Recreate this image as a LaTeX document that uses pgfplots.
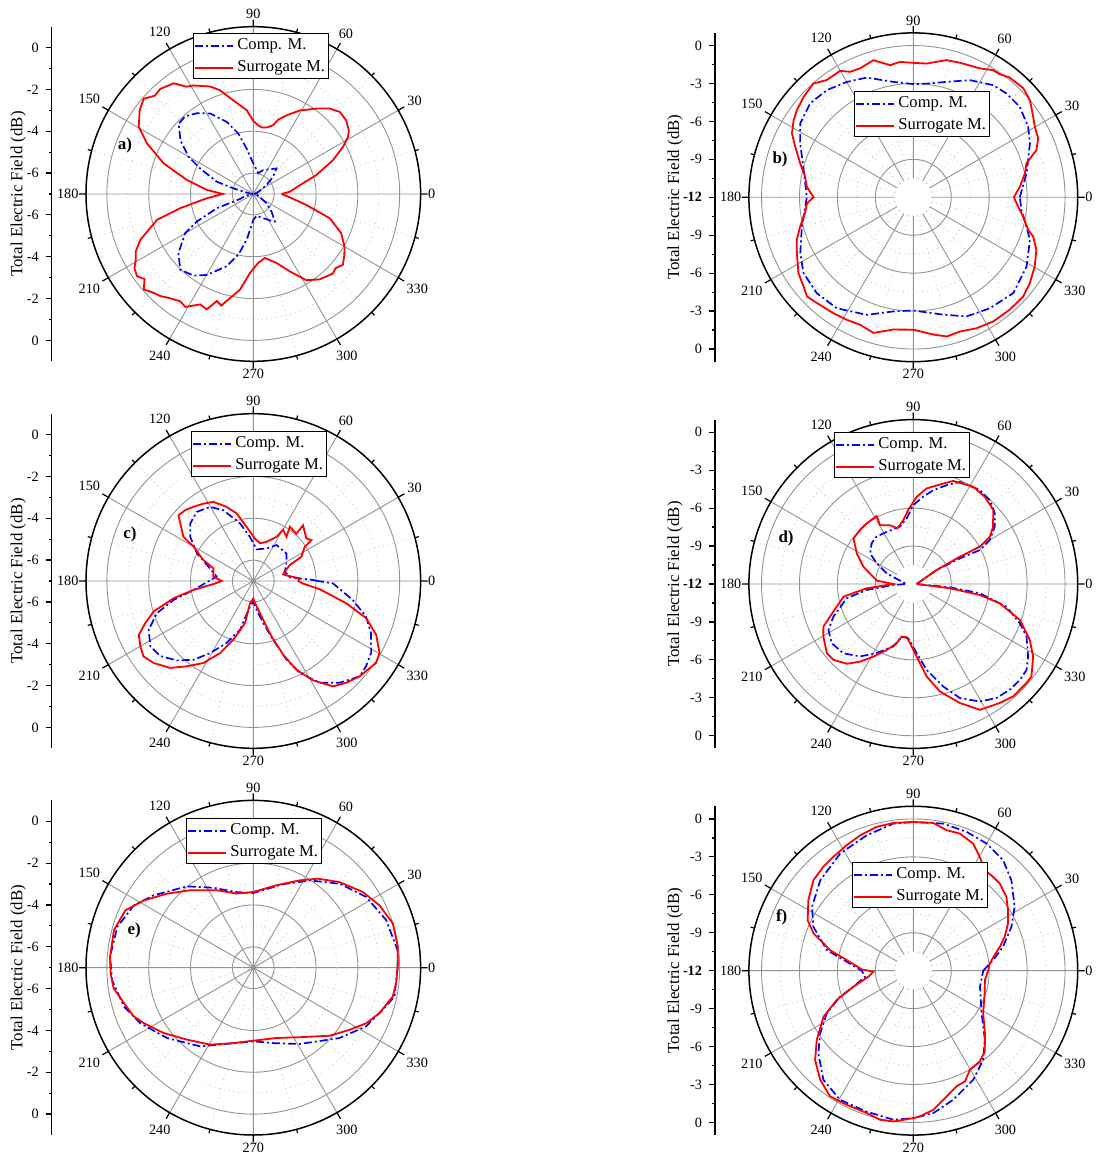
\documentclass[border=0pt]{standalone}
\usepackage{pgfplots}
\pgfplotsset{compat=1.18}
\usepackage{pgfplotstable}
\usepgfplotslibrary{polar}
\usepackage{fontspec}
\setmainfont{Liberation Serif}
\newcommand\tickfont{\fontsize{7.1pt}{8pt}\selectfont}
\newcommand\legfont{\fontsize{8.3pt}{9.5pt}\selectfont}
\newcommand\labfont{\fontsize{8.45pt}{10pt}\selectfont}

\pgfplotstableread{
a d
0 -6.95
15 -6.81
26.6 -6.65
34 -6.24
40.9 -5.75
47.7 -5.35
56 -5.57
67.4 -5.76
76.4 -5.98
90 -5.54
98.3 -4.81
103.9 -4.03
110.2 -3.33
118.2 -2.63
124.9 -2.29
131.2 -2.06
136.7 -2.10
143.6 -2.67
150.1 -3.43
154.3 -4.17
161.4 -5.16
164.2 -6.02
166.5 -6.52
172 -6.84
180 -6.95
188 -6.84
196 -6.55
200.6 -6.32
201.3 -5.13
206 -4.00
209.9 -3.24
218.3 -2.44
226 -1.97
233.8 -2.16
240.2 -2.54
249.8 -3.32
256.2 -4.02
261.8 -4.79
270 -5.76
278.6 -5.94
292.3 -5.75
304 -5.45
308.1 -5.33
316 -5.79
325 -6.22
333.4 -6.65
345 -6.81
360 -6.95
}\tabAB
\pgfplotstableread{
a d
0 -5.65
3.6 -5.25
10.5 -4.75
16.7 -3.86
23 -2.86
27.7 -2.16
31.1 -1.71
33.7 -1.51
38.4 -1.33
43.5 -1.30
48.2 -1.52
53.5 -1.92
60.9 -2.43
67.1 -2.92
71.5 -3.25
73.8 -3.57
78.7 -3.76
82.9 -3.79
85.9 -3.71
90 -3.51
94.5 -2.98
102 -2.43
107.8 -1.79
111.9 -1.46
118.8 -1.08
122 -0.95
125.7 -0.48
131.5 -0.29
135 -0.35
139 -0.06
143.6 -0.25
149.6 -0.65
154.6 -1.38
161.2 -2.48
168.1 -3.76
175 -4.78
180 -5.54
185.3 -4.76
191 -3.44
195 -2.24
202.1 -1.17
206 -0.75
209.2 -0.56
212 -0.30
215.3 -0.19
218 -0.40
221.1 -0.05
224 -0.25
227.7 -0.40
231 -0.60
235.7 -0.79
239 -0.70
244.3 -1.14
248 -1.05
251.2 -1.59
254 -1.45
257.4 -1.90
262.1 -2.38
267.6 -3.22
274.1 -3.70
280.3 -3.89
288.6 -3.52
295.3 -2.90
301.6 -2.16
307.8 -1.83
315 -1.62
318 -1.70
321.7 -1.54
326 -1.75
330.1 -1.97
336 -2.40
342.4 -3.17
348.3 -4.41
354.8 -5.25
360 -5.65
}\tabAR
\pgfplotstableread{
a d
0 -3.58
12 -2.84
24.8 -1.84
31.6 -1.34
40.4 -0.95
48.1 -0.97
54.5 -1.11
64.2 -1.71
73.9 -2.50
83.3 -2.95
90 -3.05
99.8 -2.74
111.3 -1.84
120 -1.47
128.9 -1.11
137.7 -0.97
146.9 -1.32
154.5 -2.08
164.4 -2.97
180 -3.58
194.7 -2.89
206.3 -2.03
214.6 -1.45
224.8 -1.24
235.4 -1.34
248.4 -2.00
260.1 -2.84
270 -3.05
284.3 -2.42
294.1 -1.68
304.6 -1.34
316.2 -1.05
328.5 -1.50
339.9 -2.18
345.5 -2.76
353.3 -3.39
360 -3.58
}\tabBB
\pgfplotstableread{
a d
0 -4.05
5.7 -3.53
12.1 -2.97
16.7 -2.66
21 -1.57
25.3 -1.08
30.1 -0.89
35.1 -0.47
39.8 0.00
44.8 0.25
51.3 0.15
54.9 -0.11
57.9 -0.13
62.7 -0.53
70.9 -0.74
76.4 -0.84
84.3 -1.37
90 -1.37
95.6 -1.24
100 -1.39
106.2 -0.71
112.5 -0.97
116.7 -0.89
120.1 -0.45
126.5 -0.47
131.3 -0.03
137.5 -0.24
143.2 -0.50
147.2 -0.74
152.3 -1.16
156.8 -1.84
163.3 -2.66
169.2 -3.29
174.3 -3.53
180 -4.11
183.2 -3.58
188.4 -3.34
194.5 -2.76
200.1 -2.18
205.6 -1.79
213.5 -1.11
219.1 -0.82
223 -0.50
227.6 -0.68
235.4 -0.87
241.5 -0.97
247.3 -1.08
253.6 -0.82
261.4 -1.42
270 -1.53
278.3 -1.03
283.5 -0.68
289.2 -0.76
295.8 -0.50
302.8 -0.32
310.6 -0.29
317.9 -0.29
323.6 -0.55
330.3 -0.95
336.9 -1.42
341.9 -2.03
344.1 -2.55
350 -3.18
354.9 -3.68
360 -4.05
}\tabBR
\pgfplotstableread{
a d
0 -3.92
1 -4.14
5.7 -5.24
16.4 -5.43
27.9 -5.21
39.7 -4.94
57 -4.95
67.8 -5.32
84 -5.48
94.3 -4.89
103 -4.17
112.9 -3.33
120.2 -2.90
129.3 -2.73
137.7 -2.92
145 -3.32
153.9 -4.00
162.3 -4.75
173.3 -5.24
177.7 -5.02
188.5 -4.11
193.4 -3.08
198.5 -2.14
205 -1.48
212.4 -1.17
219 -1.29
226.1 -1.73
232.8 -2.27
239.1 -2.98
246.8 -3.78
254.8 -4.59
262.6 -5.76
270 -6.02
276.6 -5.60
283.3 -4.94
288.7 -4.03
292.9 -2.92
296.8 -2.08
303.1 -1.19
310.3 -0.62
318.1 -0.17
322.9 -0.24
328.6 -0.40
336.1 -0.84
342.5 -1.35
349.2 -2.16
358.3 -3.19
360 -3.92
}\tabCB
\pgfplotstableread{
a d
0 -4.86
3.2 -4.78
9.6 -5.40
12.5 -5.54
16.4 -5.43
23.6 -5.10
26.7 -4.43
33.6 -4.05
35.1 -3.60
38.7 -3.75
48.2 -3.43
47.7 -3.94
56 -3.87
53.1 -4.36
59.9 -4.16
62.2 -4.62
71.3 -5.02
80 -5.17
87.8 -4.97
97 -4.40
103.8 -3.68
109.7 -3.24
116.8 -2.76
122.8 -2.60
128.9 -2.44
133.9 -2.30
138.7 -2.24
141.8 -2.56
147.7 -3.05
150.2 -3.71
157.2 -4.41
162.4 -5.00
173.8 -5.08
180 -5.49
184.3 -5.10
188.5 -4.11
192.2 -3.10
197 -2.02
201.3 -1.46
205.2 -0.95
210.1 -0.76
214.5 -0.63
219.5 -0.83
226.3 -1.25
232.1 -1.83
238.7 -2.41
245.3 -3.21
251.3 -4.03
258.9 -4.95
261.5 -5.92
270 -6.17
274.3 -5.94
283.2 -5.25
288.2 -4.21
292.1 -3.19
295.9 -2.29
301 -1.46
307.1 -0.68
312.4 -0.41
318.1 -0.17
321.3 -0.10
326.3 0.06
330.3 -0.05
336.4 -0.59
341.8 -1.32
346.5 -2.43
352.9 -3.79
357 -4.62
360 -4.86
}\tabCR
\pgfplotstableread{
a d
0 -11.74
31 -9.84
28.8 -7.79
27 -6.08
29.9 -5.03
35.1 -4.13
40.9 -3.47
47.6 -3.03
54.7 -2.89
65.5 -3.13
71.4 -3.76
78 -4.42
83.5 -5.05
90 -5.76
95.8 -6.79
103.1 -7.34
117 -7.37
127.8 -7.26
135.7 -7.39
144.7 -7.82
150.6 -8.68
158.2 -9.74
166 -10.92
180 -11.47
182.9 -10.42
187.3 -8.29
192.1 -6.61
202.2 -5.18
208.4 -4.37
216 -4.03
224.7 -4.21
233.7 -4.89
242.1 -5.82
252.3 -6.82
257.5 -7.74
264.7 -7.68
272.8 -6.53
278.8 -5.13
286.3 -3.55
292.2 -2.26
299.5 -1.32
306.1 -0.84
312.4 -0.68
318 -0.66
322.8 -0.76
327.7 -1.26
335.1 -2.13
339.8 -3.03
346.3 -4.42
352 -6.68
354.8 -9.11
360 -11.74
}\tabDB
\pgfplotstableread{
a d
0 -11.74
31 -9.84
30.4 -7.74
29.2 -5.97
31.7 -4.89
35.6 -4.24
42.8 -3.39
50.6 -3.08
58.3 -2.97
68.8 -3.26
73.4 -3.71
82.1 -4.37
87.8 -5.11
93.9 -6.13
98.9 -6.89
106 -7.42
111.6 -7.00
119.5 -6.66
118.3 -5.89
127.6 -5.95
134.6 -6.00
142.7 -6.05
151.6 -6.92
160.9 -7.82
174.8 -9.11
180 -10.42
185.3 -8.29
190.3 -6.39
201.4 -4.92
205.4 -4.13
210.3 -3.76
218.7 -3.24
223.5 -3.29
230.2 -3.79
235.5 -4.55
241.2 -5.45
248 -6.37
254.3 -7.13
257.5 -7.74
262.9 -7.76
266.8 -7.32
272.6 -6.26
278.2 -4.61
283.9 -3.24
291.4 -1.89
297.9 -0.74
306 -0.37
311.6 -0.11
318.8 -0.11
321.9 -0.13
328.8 -0.92
334.4 -1.79
341.4 -3.11
347.4 -5.00
350.6 -6.66
353.3 -9.08
360 -11.74
}\tabDR
\pgfplotstableread{
a d
0 -0.10
6.9 -0.05
19.7 -0.25
32.1 -0.63
44.2 -1.24
57.1 -2.03
70.3 -2.76
90 -3.43
102.4 -3.30
116.5 -2.73
129.2 -1.98
144 -1.11
152.4 -0.56
163.3 -0.21
175.6 -0.13
185 -0.22
196.7 -0.54
206.2 -0.98
219.2 -1.68
236 -2.46
250.7 -3.14
270 -3.48
284.8 -3.27
301.3 -2.73
320.8 -1.68
332.5 -0.92
342 -0.49
348.4 -0.11
360 -0.10
}\tabEB
\pgfplotstableread{
a d
0 -0.10
8.2 -0.02
17.6 0.00
26.3 -0.27
34.6 -0.63
44.8 -1.19
54 -1.74
62 -2.27
74.2 -2.90
90 -3.38
102.6 -3.37
115.3 -2.90
129.2 -2.22
139.4 -1.56
148.4 -0.86
155.8 -0.30
164.9 -0.10
175.6 -0.13
182.3 -0.17
188.4 -0.25
195.3 -0.59
202.2 -0.83
206.8 -1.13
216.1 -1.70
227.3 -2.32
240.7 -2.78
255.2 -3.27
270 -3.51
288.3 -3.46
303.8 -3.00
318.3 -2.11
327.2 -1.52
333.8 -0.98
340.2 -0.59
348.3 -0.19
353.8 -0.13
360 -0.10
}\tabER
\pgfplotstableread{
a d
0 -6.47
7.6 -5.63
14.9 -4.66
24.1 -3.50
32.2 -2.53
42.7 -1.45
50.9 -0.74
60.1 -0.39
69 -0.24
78.5 -0.13
90 -0.24
97.7 -0.26
109 -0.68
122 -1.08
135.8 -1.74
147.8 -2.53
156.3 -3.37
166.6 -4.97
172.3 -6.68
180 -7.92
187.1 -8.16
194.9 -7.11
199.5 -5.87
206.2 -4.37
213.9 -3.13
221 -2.05
230.5 -0.82
240.4 -0.26
251.7 -0.26
262.4 -0.11
270 -0.34
278 -0.63
287.2 -1.32
298.8 -2.16
308.1 -3.05
316 -4.13
328 -5.63
346.5 -6.58
360 -6.47
}\tabFB
\pgfplotstableread{
a d
0 -6.08
5.5 -5.92
10.9 -5.45
15.5 -4.89
20.4 -4.29
26.5 -3.63
32.6 -3.11
38.4 -2.61
45.2 -2.29
49.6 -2.26
54.6 -2.24
59.7 -1.58
64.8 -0.89
71.2 -0.55
76.7 -0.58
82.3 -0.21
90 -0.24
97.7 -0.21
104.3 -0.26
111.5 -0.50
117.9 -0.76
125.1 -1.00
130.9 -1.13
137.8 -1.34
146.1 -2.00
154.5 -2.74
159.5 -3.58
166.1 -5.21
170.9 -6.66
178.5 -7.92
181.4 -8.84
187.6 -8.42
194.9 -7.11
200.9 -5.53
207.1 -4.03
215.6 -2.61
222.3 -1.50
229.5 -0.66
236.5 -0.08
243.6 -0.16
251.9 -0.16
257.4 0.08
262.5 0.03
270 -0.34
272.6 -0.47
278.2 -0.89
284.8 -1.71
290.5 -2.24
295 -2.34
299.7 -2.97
306.2 -3.11
311.5 -3.47
318.8 -4.47
328.6 -5.53
342.4 -6.08
352.6 -6.29
360 -6.08
}\tabFR

\tikzset{
 comp/.style={draw=blue, line width=0.85pt, dash pattern=on 4pt off 1.5pt on 1pt off 1.5pt},
 surr/.style={draw=red, line width=0.9pt},
 legline/.style={line width=1pt},
}
\pgfplotsset{
 pol/.style={
  scale only axis, anchor=center, clip=false,
  xmin=0, xmax=360, xtick={0,30,...,330},
  xticklabels={0,30,60,90,120,150,180,210,240,270,300,330},
  minor xtick={15,45,...,345},
  ymin=0, ytick style={draw=none},
  yticklabel style={opacity=0, text opacity=0},
  grid=both,
  major grid style={gray!85, line width=0.45pt},
  minor grid style={gray!45, dotted, line width=0.45pt},
  axis line style={black, line width=0.75pt},
  y axis line style={draw=none},
  tick align=inside, xtick style={black, line width=0.6pt},
  major tick length=3.5pt, minor tick length=2pt,
  xticklabel style={font=\tickfont, inner sep=3.6pt},
 },
 polL/.style={pol, width=167.3pt, height=167.3pt, ymax=8, ytick={1,3,5,7}, minor ytick={2,4,6}},
 polR/.style={pol, width=164.4pt, height=164.4pt, ymax=13, ytick={3,6,9,12}, minor ytick={1.5,4.5,7.5,10.5}},
 yax/.style={scale only axis, width=2pt, xmin=0, xmax=1, axis x line=none, axis y line=left,
  y axis line style={-, line width=0.6pt}, anchor=west, tick align=outside,
  major tick length=3pt, minor tick length=1.5pt, yticklabel style={font=\tickfont},
  ytick style={black, line width=0.6pt}},
 yaxL/.style={yax, height=167.3pt, ymin=-8, ymax=8, ytick={-7,-5,-3,-1,1,3,5,7},
  yticklabels={0,-2,-4,-6,-6,-4,-2,0}, minor ytick={-6,-4,-2,0,2,4,6}},
 yaxR/.style={yax, height=164.4pt, ymin=-13, ymax=13, ytick={-12,-9,-6,-3,0,3,6,9,12},
  yticklabels={0,-3,-6,-9,\textbf{-12},-9,-6,-3,0}, minor ytick={-10.5,-7.5,-4.5,-1.5,1.5,4.5,7.5,10.5}},
}
\newcommand\hole{%
 \fill[white] (axis cs:0,0) circle[radius=9.48pt];
 \draw[gray!45, dotted, line width=0.45pt] (axis cs:0,0) circle[radius=9.48pt];}
% legend box: top-left corner
\newcommand\leg[2]{%
 \begin{scope}[shift={(#1,#2)}]
 \draw[black, line width=0.5pt, fill=white] (0,0) rectangle (67.5pt,-22.5pt);
 \draw[comp, legline] (1pt,-6pt) -- (20pt,-6pt);
 \node[anchor=west, font=\legfont, inner sep=0pt] at (22pt,-6pt) {Comp. M.};
 \draw[surr, legline] (1pt,-17pt) -- (20pt,-17pt);
 \node[anchor=west, font=\legfont, inner sep=0pt] at (22pt,-17pt) {Surrogate M.};
 \end{scope}}

\begin{document}
\begin{tikzpicture}
\path[use as bounding box] (0,0) rectangle (548.5pt,580pt);

% ---------- a ----------
\begin{polaraxis}[polL, at={(126.65pt,483pt)}]
\addplot[comp] table[x=a, y expr=\thisrow{d}+7] {\tabAB};
\addplot[surr] table[x=a, y expr=\thisrow{d}+7] {\tabAR};
\end{polaraxis}
\begin{axis}[yaxL, at={(25.85pt,483pt)}]
\end{axis}
\node[rotate=90, font=\labfont] at (9.15pt,483pt) {Total Electric Field (dB)};
\node[font=\labfont\bfseries] at (62.5pt,507.15pt) {a)};
\leg{96.5pt}{563pt}

% ---------- b ----------
\begin{polaraxis}[polR, at={(456.65pt,481.35pt)}]
\hole
\addplot[comp] table[x=a, y expr=\thisrow{d}+12] {\tabBB};
\addplot[surr] table[x=a, y expr=\thisrow{d}+12] {\tabBR};
\end{polaraxis}
\begin{axis}[yaxR, at={(357.5pt,481.35pt)}]
\end{axis}
\node[rotate=90, font=\labfont] at (337.5pt,481.35pt) {Total Electric Field (dB)};
\node[font=\labfont\bfseries] at (390pt,500.35pt) {b)};
\leg{427pt}{534pt}

% ---------- c ----------
\begin{polaraxis}[polL, at={(126.65pt,289.5pt)}]
\addplot[comp] table[x=a, y expr=\thisrow{d}+7] {\tabCB};
\addplot[surr] table[x=a, y expr=\thisrow{d}+7] {\tabCR};
\end{polaraxis}
\begin{axis}[yaxL, at={(25.85pt,289.5pt)}]
\end{axis}
\node[rotate=90, font=\labfont] at (9.15pt,289.5pt) {Total Electric Field (dB)};
\node[font=\labfont\bfseries] at (65pt,313pt) {c)};
\leg{95.5pt}{364pt}

% ---------- d ----------
\begin{polaraxis}[polR, at={(456.65pt,288pt)}]
\hole
\addplot[comp] table[x=a, y expr=\thisrow{d}+12] {\tabDB};
\addplot[surr] table[x=a, y expr=\thisrow{d}+12] {\tabDR};
\end{polaraxis}
\begin{axis}[yaxR, at={(357.5pt,288pt)}]
\end{axis}
\node[rotate=90, font=\labfont] at (337.5pt,288pt) {Total Electric Field (dB)};
\node[font=\labfont\bfseries] at (393pt,310.85pt) {d)};
\leg{417pt}{363.5pt}

% ---------- e ----------
\begin{polaraxis}[polL, at={(126.65pt,96.15pt)}]
\addplot[comp] table[x=a, y expr=\thisrow{d}+7] {\tabEB};
\addplot[surr] table[x=a, y expr=\thisrow{d}+7] {\tabER};
\end{polaraxis}
\begin{axis}[yaxL, at={(25.85pt,96.15pt)}]
\end{axis}
\node[rotate=90, font=\labfont] at (9.15pt,96.15pt) {Total Electric Field (dB)};
\node[font=\labfont\bfseries] at (67.15pt,114.65pt) {e)};
\leg{93pt}{170.5pt}

% ---------- f ----------
\begin{polaraxis}[polR, at={(456.65pt,94.65pt)}]
\hole
\addplot[comp] table[x=a, y expr=\thisrow{d}+12] {\tabFB};
\addplot[surr] table[x=a, y expr=\thisrow{d}+12] {\tabFR};
\end{polaraxis}
\begin{axis}[yaxR, at={(357.5pt,94.65pt)}]
\end{axis}
\node[rotate=90, font=\labfont] at (337.5pt,94.65pt) {Total Electric Field (dB)};
\node[font=\labfont\bfseries] at (390.85pt,121.35pt) {f)};
\leg{426pt}{148.5pt}
\end{tikzpicture}
\end{document}
